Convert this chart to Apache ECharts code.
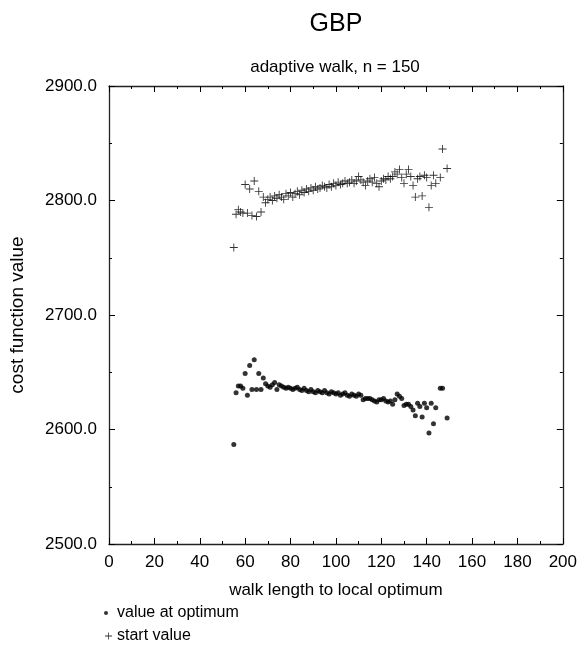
<!DOCTYPE html>
<html>
<head>
<meta charset="utf-8">
<script src="https://cdn.jsdelivr.net/npm/echarts@6/dist/echarts.min.js"></script>
<style>html,body{margin:0;padding:0;background:#fff}#c{width:580px;height:646px}</style>
</head>
<body>
<div id="c"></div>
<script>
var walkLength = [55,56,57,58,59,60,61,62,63,64,65,66,67,68,69,70,71,72,73,74,75,76,77,78,79,80,81,82,83,84,85,86,87,88,89,90,91,92,93,94,95,96,97,98,99,100,101,102,103,104,105,106,107,108,109,110,111,112,113,114,115,116,117,118,119,120,121,122,123,124,125,126,127,128,129,130,131,132,133,134,135,136,137,138,139,140,141,142,143,144,146,147,149];
var startValue = [2759,2788,2792,2790,2789,2814,2789,2810,2787,2817,2786,2808,2790,2803,2798,2801,2803,2800,2804,2802,2805,2803,2801,2806,2804,2807,2803,2806,2808,2805,2809,2807,2810,2808,2811,2809,2812,2810,2811,2813,2812,2811,2814,2812,2815,2813,2816,2814,2815,2817,2815,2816,2818,2815,2817,2821,2818,2816,2813,2817,2819,2816,2820,2815,2812,2817,2819,2818,2821,2819,2821,2825,2823,2827,2820,2815,2823,2827,2821,2813,2803,2819,2821,2804,2822,2820,2794,2813,2822,2815,2820,2845,2828];
var optimumValue = [2587,2632,2638,2638,2636,2649,2630,2656,2635,2661,2635,2649,2635,2645,2640,2638,2637,2639,2641,2635,2639,2638,2637,2636,2637,2636,2635,2636,2637,2635,2634,2636,2634,2633,2635,2633,2632,2634,2633,2632,2634,2632,2631,2633,2632,2631,2632,2630,2631,2632,2630,2629,2631,2630,2629,2631,2630,2626,2627,2627,2627,2626,2625,2624,2626,2626,2627,2625,2624,2625,2622,2626,2631,2629,2627,2621,2622,2622,2620,2617,2612,2623,2620,2611,2623,2619,2597,2623,2605,2619,2636,2636,2610];
var xTicks = [0,20,40,60,80,100,120,140,160,180,200];
var yTicks = [2500,2600,2700,2800,2900];

function pairs(xs, ys){ return xs.map(function(x,i){ return [x, ys[i]]; }); }

var FONT = 'Liberation Sans, Arial, sans-serif';
var chart = echarts.init(document.getElementById('c'), null, {renderer:'canvas'});
var axisLine = {show:true, onZero:false, lineStyle:{color:'#222', width:1.3}};
var tick = {show:true, inside:true, length:6, lineStyle:{color:'#000', width:1}};
var minor = {show:true, splitNumber:2, length:3, lineStyle:{color:'#000', width:1}};
var plus = 'path://M4.45,0H5.55V4.45H10V5.55H5.55V10H4.45V5.55H0V4.45H4.45Z';
var txt = {fontFamily:FONT, fontSize:17, color:'#000'};

chart.setOption({
  animation:false,
  backgroundColor:'#fff',
  title:[
    {text:'GBP', left:331, top:7, textAlign:'center', textStyle:{fontFamily:FONT, fontSize:25, fontWeight:'normal', color:'#000'}},
    {text:'adaptive walk, n = 150', left:330, top:54, textAlign:'center', textStyle:{fontFamily:FONT, fontSize:17, fontWeight:'normal', color:'#000'}}
  ],
  grid:{left:109, right:16, top:86, bottom:102, containLabel:false},
  legend:[
    {orient:'vertical', left:99, top:600, itemWidth:4, itemHeight:4, textStyle:{fontFamily:FONT, fontSize:16, color:'#000', padding:[0,0,0,4]},
     data:[{name:'value at optimum', icon:'circle', itemStyle:{color:'#000'}}], selectedMode:false},
    {orient:'vertical', left:100, top:623, itemWidth:7, itemHeight:7, textStyle:{fontFamily:FONT, fontSize:16, color:'#000'},
     data:[{name:'start value', icon:plus, itemStyle:{color:'#000'}}], selectedMode:false}
  ],
  xAxis:[
    {type:'value', min:xTicks[0], max:xTicks[xTicks.length-1], interval:20,
     name:'walk length to local optimum', nameLocation:'middle', nameGap:38,
     nameTextStyle:txt,
     axisLine:axisLine, axisTick:tick, minorTick:minor, splitLine:{show:false},
     axisLabel:{fontFamily:FONT, fontSize:17, color:'#000', margin:10}},
    {type:'value', position:'top', min:xTicks[0], max:xTicks[xTicks.length-1], interval:20,
     axisLine:axisLine, axisTick:tick, minorTick:minor, splitLine:{show:false}, axisLabel:{show:false}}
  ],
  yAxis:[
    {type:'value', min:yTicks[0], max:yTicks[yTicks.length-1], interval:100,
     name:'cost function value', nameLocation:'middle', nameGap:82,
     nameTextStyle:{fontFamily:FONT, fontSize:19, color:'#000'},
     axisLine:axisLine, axisTick:tick, minorTick:minor, splitLine:{show:false},
     axisLabel:{fontFamily:FONT, fontSize:17, color:'#000', margin:12, formatter:function(v){return v.toFixed(1);}}},
    {type:'value', position:'right', min:yTicks[0], max:yTicks[yTicks.length-1], interval:100,
     axisLine:axisLine, axisTick:tick, minorTick:minor, splitLine:{show:false}, axisLabel:{show:false}}
  ],
  series:[
    {name:'value at optimum', type:'scatter', symbol:'circle', symbolSize:5, itemStyle:{color:'#000'},
     data:pairs(walkLength, optimumValue)},
    {name:'start value', type:'scatter', symbol:plus, symbolSize:8, itemStyle:{color:'#000'},
     data:pairs(walkLength, startValue)}
  ]
});
</script>
</body>
</html>
